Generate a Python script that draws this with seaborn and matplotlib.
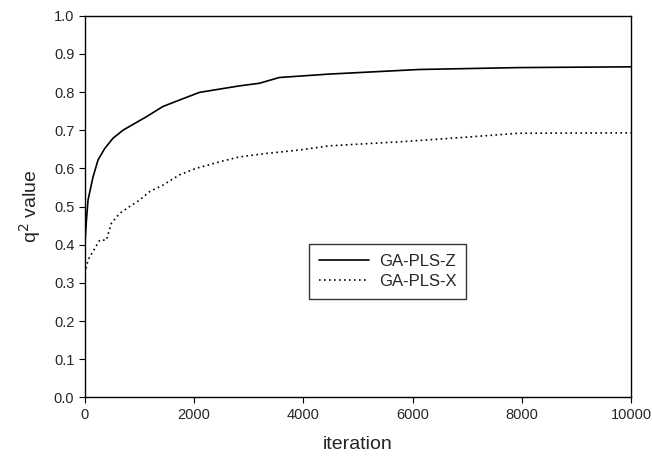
import numpy as np
import pandas as pd
import seaborn as sns
import matplotlib.pyplot as plt

### values
iter_z = [0, 31, 60, 152, 243, 365, 517, 700, 1125, 1429, 1734, 2099, 2828,
          3200, 3560, 4475, 6120, 7945, 10000]
q2_z = [0.395, 0.465, 0.517, 0.578, 0.622, 0.652, 0.679, 0.700, 0.735, 0.762, 0.779, 0.799, 0.816,
        0.823, 0.838, 0.847, 0.859, 0.864, 0.866]

iter_x = [0, 60, 182, 274, 396, 487, 639, 821, 1004, 1186, 1429, 1734, 2038, 2464, 2828,
          3318, 3927, 4475, 5813, 6726, 7945, 10000]
q2_x = [0.325, 0.36, 0.39, 0.412, 0.412, 0.456, 0.482, 0.50, 0.517, 0.539, 0.556, 0.583, 0.600, 0.617, 0.630,
        0.639, 0.648, 0.659, 0.670, 0.679, 0.692, 0.693]

df_z = pd.DataFrame({"iteration": iter_z, "q2": q2_z, "model": "GA-PLS-Z"})
df_x = pd.DataFrame({"iteration": iter_x, "q2": q2_x, "model": "GA-PLS-X"})
df = pd.concat([df_z, df_x], ignore_index=True)

sns.set_style("ticks")
plt.rcParams['font.family'] = ['Liberation Sans', 'DejaVu Sans']

fig = plt.figure(figsize=(6.52, 4.61), dpi=100)
ax = fig.add_axes([0.130, 0.138, 0.838, 0.828])

sns.lineplot(data=df, x="iteration", y="q2", hue="model", style="model",
             palette={"GA-PLS-Z": "black", "GA-PLS-X": "black"},
             dashes={"GA-PLS-Z": "", "GA-PLS-X": (1, 2)},
             linewidth=1.2, ax=ax)

ax.set_xlim(0, 10000)
ax.set_ylim(0, 1.0)
ax.set_xticks([0, 2000, 4000, 6000, 8000, 10000])
ax.set_yticks(np.arange(0, 1.01, 0.1))
ax.set_yticklabels([f"{v:.1f}" for v in np.arange(0, 1.01, 0.1)])
ax.tick_params(axis="both", labelsize=10.5, direction="out", length=4, color="black")

for s in ax.spines.values():
    s.set_color("black")
    s.set_linewidth(1.0)

ax.set_xlabel("iteration", fontsize=14, labelpad=10)
ax.set_ylabel("q$^2$ value", fontsize=14, labelpad=8)

leg = ax.legend(loc="center", bbox_to_anchor=(0.554, 0.331), fontsize=12,
                frameon=True, fancybox=False, edgecolor="black",
                handlelength=3.0, handletextpad=0.6, borderpad=0.6, labelspacing=0.3)
leg.get_frame().set_linewidth(1.0)

fig.savefig("out.png", dpi=100)
